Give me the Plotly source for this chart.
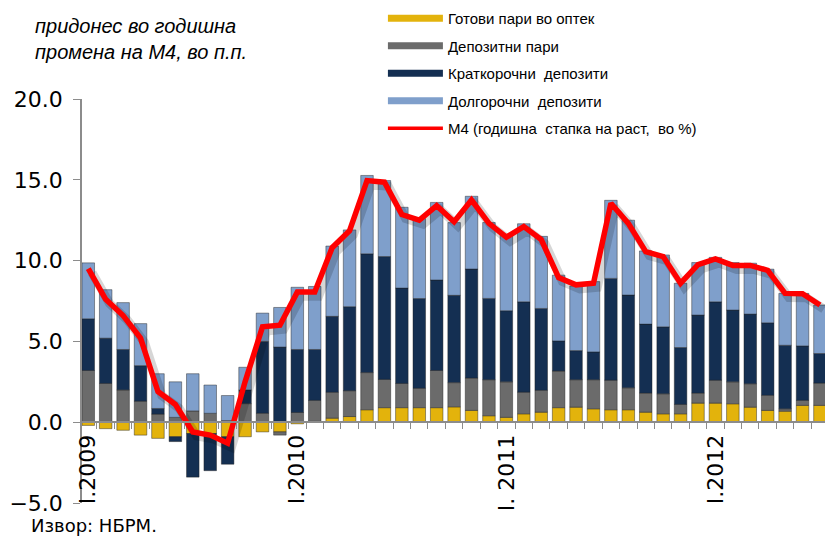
import plotly.graph_objects as go

# ---- data ----
years = [2009, 2010, 2011, 2012]
roman = ["I", "II", "III", "IV", "V", "VI", "VII", "VIII", "IX", "X", "XI", "XII"]
n_months = 43  # I.2009 .. VII.2012
categories = [f"{roman[k % 12]}.{years[k // 12]}" for k in range(n_months)]
jan_labels = ["I.2009", "I.2010", "I. 2011", "I.2012"]

cash = [-0.2, -0.4, -0.5, -0.8, -1.0, -0.9, -0.7, -0.7, -0.9, -0.9, -0.6, -0.6,
        -0.1, 0.05, 0.25, 0.35, 0.77, 0.9, 0.9, 0.9, 0.9, 0.95, 0.73, 0.4,
        0.3, 0.52, 0.62, 0.9, 0.93, 0.83, 0.77, 0.77, 0.62, 0.52, 0.52, 1.18,
        1.18, 1.14, 0.93, 0.73, 0.68, 1.04, 1.04]
demand_dep = [3.2, 2.4, 2.0, 1.3, 0.5, 0.3, 0.7, 0.55, 0.1, 1.15, 0.55, -0.2,
              0.6, 1.3, 1.6, 1.6, 2.3, 1.75, 1.5, 1.2, 2.3, 1.5, 2.0, 2.23,
              2.2, 1.34, 1.35, 2.27, 1.7, 1.8, 1.83, 1.36, 1.18, 1.24, 0.58, 0.62,
              1.42, 1.36, 1.45, 0.93, 0.15, 0.31, 1.38]
short_dep = [3.2, 2.8, 2.5, 2.2, 0.35, -0.3, -2.7, -2.3, -1.7, 0.85, 4.45, 4.65,
             3.9, 3.15, 4.7, 5.2, 7.35, 7.6, 5.9, 5.55, 5.6, 5.4, 6.75, 5.03,
             4.4, 5.59, 5.07, 1.86, 1.8, 1.72, 6.3, 5.74, 4.27, 4.14, 3.52, 4.83,
             4.85, 4.44, 4.31, 4.49, 3.93, 3.37, 1.83]
long_dep = [3.46, 3.0, 2.9, 2.6, 2.15, 2.2, 2.3, 1.75, 1.55, 1.4, 1.75, 2.45,
            3.85, 3.9, 4.35, 4.75, 4.85, 4.7, 5.0, 4.95, 4.8, 4.5, 4.5, 4.7,
            4.7, 4.83, 4.46, 4.07, 4.0, 4.35, 4.83, 4.63, 4.53, 4.45, 3.98, 3.25,
            2.75, 2.94, 3.15, 3.32, 3.21, 3.25, 3.0]
m4_growth = [9.5, 7.6, 6.6, 5.2, 1.9, 1.1, -0.6, -0.8, -1.3, 2.5, 5.9, 6.0,
             8.05, 8.05, 10.8, 11.85, 14.95, 14.85, 12.85, 12.5, 13.4, 12.4, 13.75, 12.3,
             11.45, 12.1, 11.3, 8.95, 8.5, 8.6, 13.55, 12.3, 10.55, 10.25, 8.6, 9.75,
             10.1, 9.7, 9.7, 9.4, 7.97, 7.95, 7.25]

names = ["Готови пари во оптек", "Депозитни пари", "Краткорочни  депозити",
         "Долгорочни  депозити", "М4 (годишна  стапка на раст,  во %)"]
colors = ["#E3B30C", "#6B6B6B", "#142F52", "#7F9FCB", "#FF0000"]

tickvals = categories
ticktext = [""] * n_months
for j, lab in enumerate(jan_labels):
    ticktext[12 * j] = lab

fig = go.Figure()
for vals, nm, col in zip([cash, demand_dep, short_dep, long_dep], names[:4], colors[:4]):
    fig.add_trace(go.Bar(x=categories, y=vals, name=nm, showlegend=False,
                         marker=dict(color=col, line=dict(color="rgba(30,30,30,0.55)", width=0.8)),
                         xaxis="x", yaxis="y"))

# shadow of the M4 line (same data on slightly shifted overlay axes)
fig.add_trace(go.Scatter(x=categories, y=m4_growth, mode="lines", showlegend=False,
                         line=dict(color="rgba(0,0,0,0.16)", width=9), hoverinfo="skip",
                         xaxis="x2", yaxis="y2"))
fig.add_trace(go.Scatter(x=categories, y=m4_growth, mode="lines", showlegend=False,
                         name=names[4], line=dict(color=colors[4], width=5.5),
                         xaxis="x3", yaxis="y3"))

# legend entries
for j, (nm, col) in enumerate(zip(names, colors)):
    fig.add_trace(go.Scatter(x=[None], y=[None], mode="lines", name=nm,
                             legendgroup=f"g{j}",
                             line=dict(color=col, width=7 if j < 4 else 3.5),
                             xaxis="x3", yaxis="y3"))

xr = [-0.36, 42.29]
yr = [-5, 20]
fig.update_layout(
    width=825, height=539,
    margin=dict(l=82, r=0, t=99, b=36, autoexpand=False),
    plot_bgcolor="white", paper_bgcolor="white",
    barmode="relative", bargap=0.28,
    font=dict(family="DejaVu Sans", color="#000000"),
    xaxis=dict(type="category", range=xr, tickmode="array", tickvals=tickvals,
               ticktext=ticktext, tickangle=-90, tickson="boundaries",
               ticks="outside", ticklen=6, tickcolor="#8c8c8c",
               showline=True, linecolor="#8c8c8c", linewidth=1.5,
               showgrid=False, zeroline=False, anchor="free", position=0.2,
               ticklabelstandoff=3,
               tickfont=dict(family="DejaVu Sans", size=22, color="#000")),
    yaxis=dict(range=yr, dtick=5, tickformat=".1f", ticks="outside", ticklen=7,
               tickcolor="#8c8c8c", showline=True, linecolor="#8c8c8c", linewidth=1.5,
               showgrid=False, zeroline=False, ticklabelstandoff=6,
               tickfont=dict(family="DejaVu Sans", size=22, color="#000")),
    xaxis2=dict(type="category", overlaying="x", visible=False,
                range=[xr[0] - 0.22, xr[1] - 0.22], anchor="y2"),
    yaxis2=dict(overlaying="y", visible=False, range=[yr[0] + 0.25, yr[1] + 0.25], anchor="x2"),
    xaxis3=dict(type="category", overlaying="x", visible=False, range=xr, anchor="y3"),
    yaxis3=dict(overlaying="y", visible=False, range=yr, anchor="x3"),
    legend=dict(x=0.405, y=1.24, xanchor="left", yanchor="top",
                font=dict(family="Liberation Sans", size=15, color="#000"),
                tracegroupgap=5, itemwidth=55, bgcolor="rgba(0,0,0,0)"),
    annotations=[
        dict(text="<i>придонес во годишна<br>промена на М4, во п.п.</i>",
             xref="paper", yref="paper", x=-0.066, y=1.212, xanchor="left", yanchor="top",
             align="left", showarrow=False,
             font=dict(family="Liberation Sans", size=20, color="#000")),
        dict(text="Извор: НБРМ.", xref="paper", yref="paper", x=-0.072, y=-0.024,
             xanchor="left", yanchor="top", showarrow=False,
             font=dict(family="DejaVu Sans", size=18, color="#000")),
    ],
)

fig.write_html("out.html", config={"displayModeBar": False},
               post_script="document.body.style.margin='0';document.body.style.overflow='hidden';")
